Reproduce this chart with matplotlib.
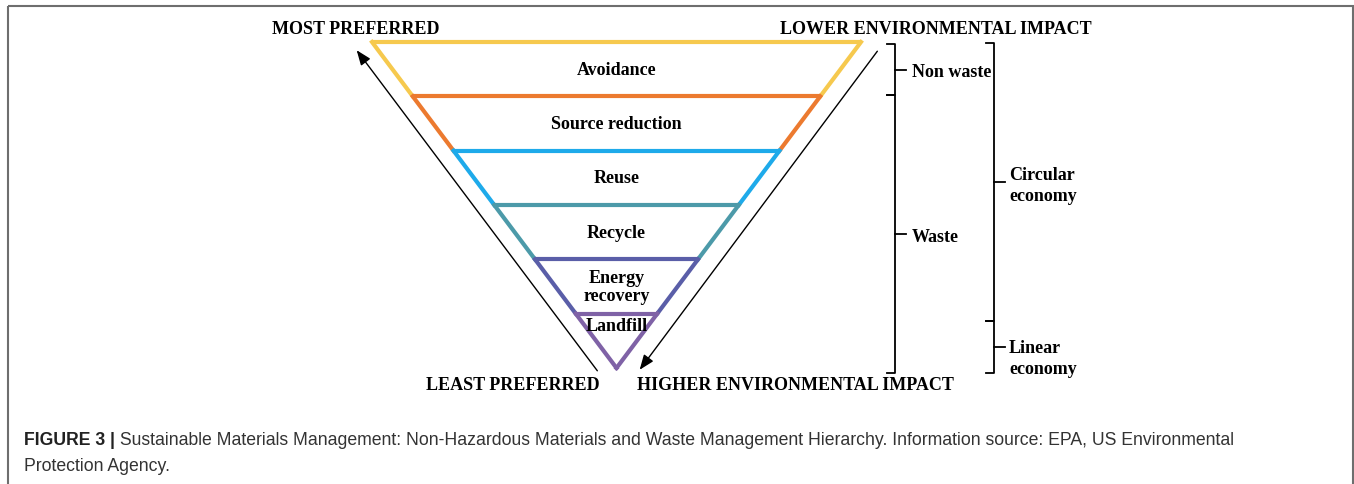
import matplotlib
matplotlib.use("Agg")
import matplotlib.pyplot as plt
from matplotlib.patches import Rectangle

# 階層の段（上から）
levels = ["Avoidance", "Source reduction", "Reuse", "Recycle", "Energy\nrecovery", "Landfill"]
level_colors = ["#F6C94E", "#EC7A2F", "#1EAAEA", "#4C9AA9", "#5A5EA8", "#7F62A6"]

# 右側の括弧
inner_groups = [("Non waste", 0, 1), ("Waste", 1, 6)]
outer_groups = [("Circular\neconomy", 0, 5), ("Linear\neconomy", 5, 6)]

corner_labels = ["MOST PREFERRED", "LOWER ENVIRONMENTAL IMPACT",
                 "LEAST PREFERRED", "HIGHER ENVIRONMENTAL IMPACT"]

caption_bold = "FIGURE 3 |"
caption_rest = (" Sustainable Materials Management: Non-Hazardous Materials and Waste Management "
                "Hierarchy. Information source: EPA, US Environmental")
caption_line2 = "Protection Agency."

W, H = 1354, 484
fig = plt.figure(figsize=(W / 100, H / 100), dpi=100)
ax = fig.add_axes([0, 0, 1, 1])
ax.set_xlim(0, W)
ax.set_ylim(H, 0)
ax.axis("off")

serif = "Liberation Serif"
FS = 13

# 外枠
ax.add_patch(Rectangle((8, 6), 1345, 490, fill=False, edgecolor="#6e6e6e", lw=1.5))

# 逆三角形
top_y, apex_y = 42, 368
cx, half_top = 616.5, 244.5
n = len(levels)
step = (apex_y - top_y) / n


def half_w(y):
    return half_top * (apex_y - y) / (apex_y - top_y)


for i, (name, col) in enumerate(zip(levels, level_colors)):
    y0 = top_y + i * step
    y1 = y0 + step
    ax.plot([cx - half_w(y0), cx + half_w(y0)], [y0, y0], color=col, lw=3, solid_capstyle="butt")
    ax.plot([cx - half_w(y0), cx - half_w(y1)], [y0, y1], color=col, lw=3)
    ax.plot([cx + half_w(y0), cx + half_w(y1)], [y0, y1], color=col, lw=3)
    ty = (y0 + y1) / 2 + 1 if i < n - 1 else y0 + 13
    ax.text(cx, ty, name, ha="center", va="center", fontsize=FS, fontweight="bold",
            family=serif, linespacing=1.1)

# 矢印
ax.annotate("", xy=(355, 48), xytext=(599, 373),
            arrowprops=dict(arrowstyle="-|>,head_length=0.9,head_width=0.35", color="black", lw=1))
ax.annotate("", xy=(638, 372), xytext=(879, 49),
            arrowprops=dict(arrowstyle="-|>,head_length=0.9,head_width=0.35", color="black", lw=1))

# 四隅の見出し
lab_kw = dict(fontsize=FS, fontweight="bold", family=serif, va="center")
ax.text(272, 30, corner_labels[0], ha="left", **lab_kw)
ax.text(1092, 30, corner_labels[1], ha="right", **lab_kw)
ax.text(600, 386, corner_labels[2], ha="right", **lab_kw)
ax.text(637, 386, corner_labels[3], ha="left", **lab_kw)


def brace(x, ya, yb, label, tx, dy):
    ax.plot([x - 8, x, x, x - 8], [ya, ya, yb, yb], color="black", lw=1.3)
    ym = (ya + yb) / 2
    ax.plot([x, x + 11], [ym, ym], color="black", lw=1.3)
    ax.text(tx, ym + dy, label, ha="left", va="center", fontsize=FS, fontweight="bold",
            family=serif, linespacing=1.35)


inner_bounds = [44, 95, 373]
outer_bounds = [43, 321, 373]
for k, (name, a, b) in enumerate(inner_groups):
    brace(895, inner_bounds[k], inner_bounds[k + 1], name, 912, 3)
for k, (name, a, b) in enumerate(outer_groups):
    brace(994, outer_bounds[k], outer_bounds[k + 1], name, 1009, [4, 12][k])

# キャプション
fig.canvas.draw()
r = fig.canvas.get_renderer()
cap_fs = 12.7
t1 = ax.text(24, 445, caption_bold, fontsize=cap_fs, fontweight="bold", family="Liberation Sans",
             va="baseline", ha="left", color="#222222")
bb = t1.get_window_extent(renderer=r)
base_y = H - 445  # ベースライン（ピクセル、下原点）
ax.text(bb.x1, base_y, caption_rest, fontsize=cap_fs, family="Liberation Sans",
        va="baseline", ha="left", color="#333333", transform=None)
ax.text(24, 471, caption_line2, fontsize=cap_fs, family="Liberation Sans",
        va="baseline", ha="left", color="#333333")

fig.savefig("out.png", dpi=100)
